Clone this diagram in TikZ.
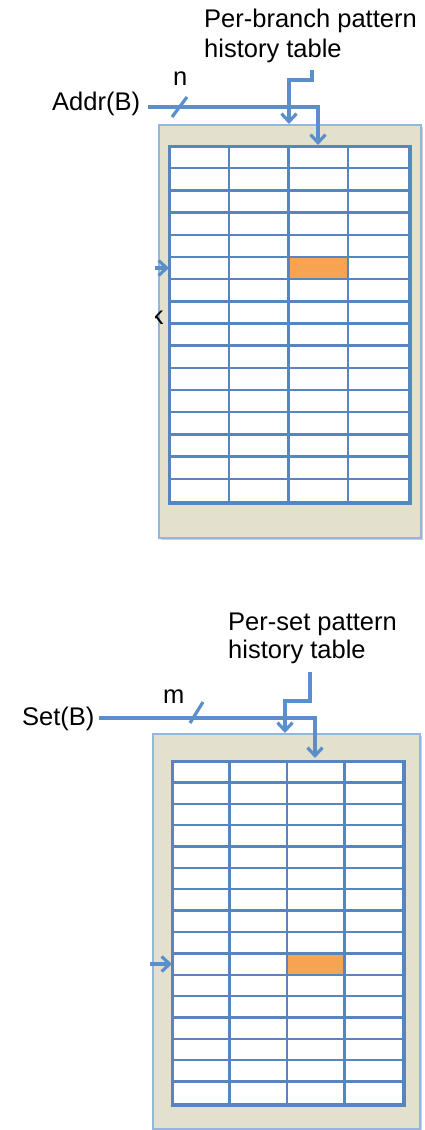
\documentclass[tikz,border=0pt]{standalone}
\usepackage{fontspec}
\setmainfont{Liberation Sans}
\usetikzlibrary{arrows.meta,shadows,calc}
\definecolor{lineblue}{HTML}{5B8FCB}
\definecolor{gridblue}{HTML}{5685C0}
\definecolor{boxedge}{HTML}{93B5DE}
\definecolor{tanfill}{HTML}{E3E0CD}
\definecolor{hitcell}{HTML}{F7A452}
\begin{document}
\begin{tikzpicture}[x=1pt,y=-1pt,
  lbl/.style={font=\fontsize{25.5}{28}\selectfont, inner sep=0pt, anchor=base west},
  wire/.style={draw=lineblue, line width=3.2pt},
  arr/.style={wire, -{Straight Barb[length=8pt,width=15pt]}},
  outerbox/.style={draw=boxedge, fill=tanfill, line width=2.2pt, anchor=north west, inner sep=0pt,
    drop shadow={shadow xshift=1.5pt, shadow yshift=-1.5pt, opacity=0.3, fill=black!60}},
  gridbox/.style={draw=gridblue, fill=white, line width=2.4pt, anchor=north west, inner sep=0pt,
    drop shadow={shadow xshift=2pt, shadow yshift=-2pt, opacity=0.35, fill=black!60}},
  gridline/.style={draw=gridblue, line width=2.4pt},
  hit/.style={fill=hitcell}]
\useasboundingbox (0,0) rectangle (424,1130);
\fill[white] (0,0) rectangle (424,1130);

% ================= top diagram =================
\node[outerbox, minimum width=262pt, minimum height=413pt] (box1) at (158,124) {};
\node[gridbox, minimum width=239pt, minimum height=355pt] (grid1) at (169,146) {};
\fill[hit] (288.5,256.94) rectangle (348.25,279.13);
\foreach \i in {1,...,15} \draw[gridline] (169,146+\i*22.1875) -- (408,146+\i*22.1875);
\foreach \j in {1,2,3} \draw[gridline] (169+\j*59.75,146) -- (169+\j*59.75,501);
\draw[gridline] (grid1.north west) rectangle (grid1.south east);

\node[lbl] (title1a) at (204,27) {Per-branch pattern};
\node[lbl] (title1b) at (204,57) {history table};
\node[lbl] (addr) at (52,110) {Addr(B)};
\node[lbl] (nlab) at (173,85) {n};
\coordinate (addrend) at (148,107);
\coordinate (t1end) at (312,70);
\draw[arr] (addrend) -| (318,145);
\draw[arr] (t1end) |- (289,80) -- (289,80 |- box1.north);
\draw[wire] (172,117) -- (187,97);
\coordinate (sel1) at (155,268);
\draw[arr] (sel1) -- (grid1.west |- sel1);
\begin{scope}
  \clip (155.5,300) rectangle (170,330);
  \node[lbl] (kk) at (150.5,324) {k};
\end{scope}

% ================= bottom diagram =================
\node[outerbox, minimum width=267pt, minimum height=395pt] (box2) at (152,733) {};
\node[gridbox, minimum width=230pt, minimum height=342pt] (grid2) at (172,761) {};
\fill[hit] (287,953.38) rectangle (344.5,974.75);
\foreach \i in {1,...,15} \draw[gridline] (172,761+\i*21.375) -- (402,761+\i*21.375);
\foreach \j in {1,2,3} \draw[gridline] (172+\j*57.5,761) -- (172+\j*57.5,1103);
\draw[gridline] (grid2.north west) rectangle (grid2.south east);

\node[lbl] (title2a) at (228,630) {Per-set pattern};
\node[lbl] (title2b) at (228,658) {history table};
\node[lbl] (setb) at (22,725) {Set(B)};
\node[lbl] (mlab) at (163,703) {m};
\coordinate (setend) at (99,718);
\coordinate (t2end) at (310,672);
\draw[arr] (setend) -| (315,758);
\draw[arr] (t2end) |- (285,701) -- (285,701 |- box2.north);
\draw[wire] (190,723) -- (203,702);
\coordinate (sel2) at (150,964);
\draw[arr] (sel2) -- (grid2.west |- sel2);
\end{tikzpicture}
\end{document}
